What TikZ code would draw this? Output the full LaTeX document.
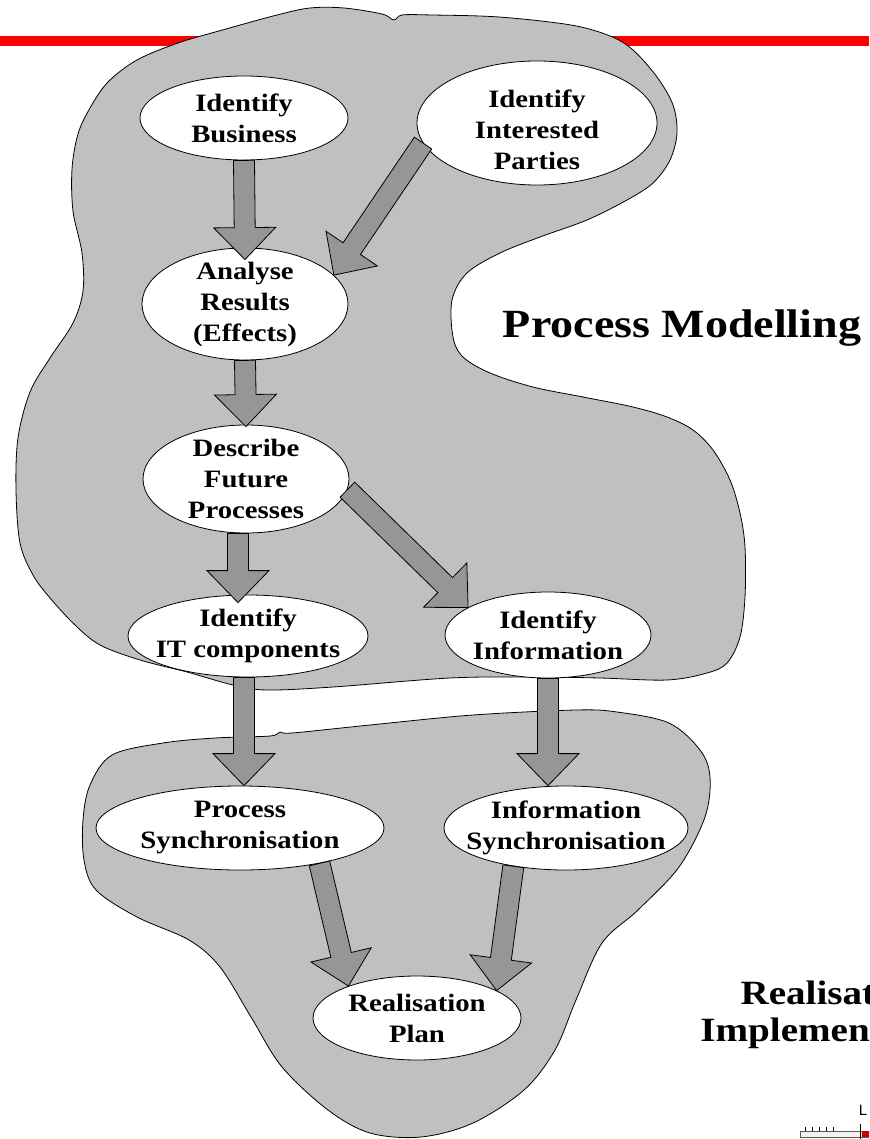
\documentclass[tikz,border=0pt]{standalone}
\usepackage{fontspec}
\setmainfont{Liberation Serif}[FakeStretch=1.15]
\setsansfont{Liberation Sans}
\usetikzlibrary{shapes.geometric, calc}
\definecolor{blob-gray}{RGB}{192,192,192}
\definecolor{arrow-gray}{RGB}{150,150,150}
\tikzset{
	task/.style={draw, ellipse, fill=white, inner sep=0pt, line width=0.8pt},
	task-text/.style={font=\fontsize{25}{31}\selectfont\bfseries, align=center, inner sep=0pt},
	blob/.style={draw, fill=blob-gray, line width=0.8pt},
	block-arrow/.style={draw, fill=arrow-gray, line width=0.8pt, to path={
		let \p1=(\tikztostart), \p2=(\tikztotarget), \n1={atan2(\y2-\y1,\x2-\x1)}, \n2={veclen(\x2-\x1,\y2-\y1)} in
		($(\p1)+(\n1+90:10.5pt)$) -- ($(\p1)+(\n1:{\n2-32pt})+(\n1+90:10.5pt)$) -- ($(\p1)+(\n1:{\n2-32pt})+(\n1+90:31pt)$) -- (\p2) -- ($(\p1)+(\n1:{\n2-32pt})+(\n1-90:31pt)$) -- ($(\p1)+(\n1:{\n2-32pt})+(\n1-90:10.5pt)$) -- ($(\p1)+(\n1-90:10.5pt)$) -- cycle}}
}

\begin{document}
\begin{tikzpicture}[x=1pt, y=-1pt]
				\useasboundingbox (0,0) rectangle (869,1139);
				\clip (0,0) rectangle (869,1139);

				\fill[red] (0,36) rectangle (869,46);

				\draw[blob] plot[smooth cycle, tension=0.55] coordinates {(226,29) (277,15) (310,8) (344,8) (382,14) (394,20) (402,15) (432,15) (499,17) (571,25) (610,36) (633,50) (657,77) (673,105) (677,133) (670,160) (653,183) (627,200) (587,220) (540,237) (500,253) (467,273) (452,300) (453,337) (463,357) (490,373) (533,387) (583,397) (633,407) (667,417) (693,430) (713,450) (730,480) (740,513) (745,547) (745,597) (740,637) (727,663) (707,673) (667,680) (600,678) (533,677) (450,678) (333,687) (267,690) (233,685) (187,672) (140,660) (100,645) (75,625) (50,598) (33,575) (20,543) (16,490) (18,438) (30,392) (50,358) (73,323) (83,291) (82,253) (73,211) (72,169) (78,134) (90,108) (108,82) (137,60) (178,43)};
				\draw[blob] plot[smooth cycle, tension=0.55] coordinates {(112,755) (163,743) (215,738) (270,736) (280,732) (292,733) (370,725) (473,715) (576,710) (617,712) (669,723) (700,750) (710,777) (705,817) (679,867) (638,910) (602,943) (576,1000) (555,1050) (524,1090) (473,1123) (421,1137) (370,1133) (328,1110) (282,1067) (251,1017) (220,967) (189,940) (137,917) (96,890) (84,860) (83,820) (90,785)};

				\node[task, minimum width=208pt, minimum height=84pt, label={[task-text]center:Identify\\Business}] at (244,118) (identify-business) {};
				\node[task, minimum width=240pt, minimum height=124pt, label={[task-text, yshift=-7pt]center:Identify\\Interested\\Parties}] at (537,123) (identify-interested-parties) {};
				\node[task, minimum width=206pt, minimum height=112pt, label={[task-text]center:Analyse\\Results\\(Effects)}] at (245,304) (analyse-results) {};
				\node[task, minimum width=206pt, minimum height=108pt, label={[task-text]center:Describe\\Future\\Processes}] at (246,479) (describe-future-processes) {};
				\node[task, minimum width=240pt, minimum height=82pt, label={[task-text]center:Identify\\IT components}] at (248,636) (identify-it-components) {};
				\node[task, minimum width=206pt, minimum height=86pt, label={[task-text]center:Identify\\Information}] at (548,635) (identify-information) {};
				\node[task, minimum width=288pt, minimum height=84pt, label={[task-text]center:Process\\Synchronisation}] at (240,828) (process-synchronisation) {};
				\node[task, minimum width=244pt, minimum height=84pt, label={[task-text]center:Information\\Synchronisation}] at (566,828) (information-synchronisation) {};
				\node[task, minimum width=208pt, minimum height=84pt, label={[task-text]center:Realisation\\Plan}] at (417,1018) (realisation-plan) {};

				\node[font=\fontsize{40}{44}\selectfont\bfseries, anchor=base] at (682,337) (process-modelling-text) {Process Modelling};
				\node[font=\fontsize{34}{37}\selectfont\bfseries, align=center] at (834,1015) (realisation-text) {Realisation\\Implementation};

				\draw[block-arrow] (identify-business.south) to ([yshift=-12pt]analyse-results.north);
				\draw[block-arrow] (identify-interested-parties.190) to (analyse-results.18);
				\draw[block-arrow] (analyse-results.south) to ([yshift=-2pt]describe-future-processes.north);
				\draw[block-arrow] ([xshift=-8pt]describe-future-processes.south) to ([xshift=-10pt, yshift=-8pt]identify-it-components.north);
				\draw[block-arrow] (describe-future-processes.-6) to (identify-information.161);
				\draw[block-arrow] ([xshift=-4pt]identify-it-components.south) to ([xshift=4pt]process-synchronisation.north);
				\draw[block-arrow] (identify-information.south) to ([xshift=-18pt]information-synchronisation.north);
				\draw[block-arrow] (process-synchronisation.-24) to (realisation-plan.155);
				\draw[block-arrow] (information-synchronisation.216) to (realisation-plan.19);

				\node[font=\sffamily\fontsize{15}{15}\selectfont, anchor=base] at (863,1115) (ruler-label) {L};
				\draw[gray!70!black, fill=gray!10] (800,1131) rectangle (880,1137);
				\fill[red!80!black] (862,1131) rectangle (880,1137);
				\foreach \x in {805,812,819,826,833}
					\draw[black] (\x,1127) -- (\x,1131);
				\draw[black] (860,1124) -- (860,1139);
			\end{tikzpicture}
\end{document}
